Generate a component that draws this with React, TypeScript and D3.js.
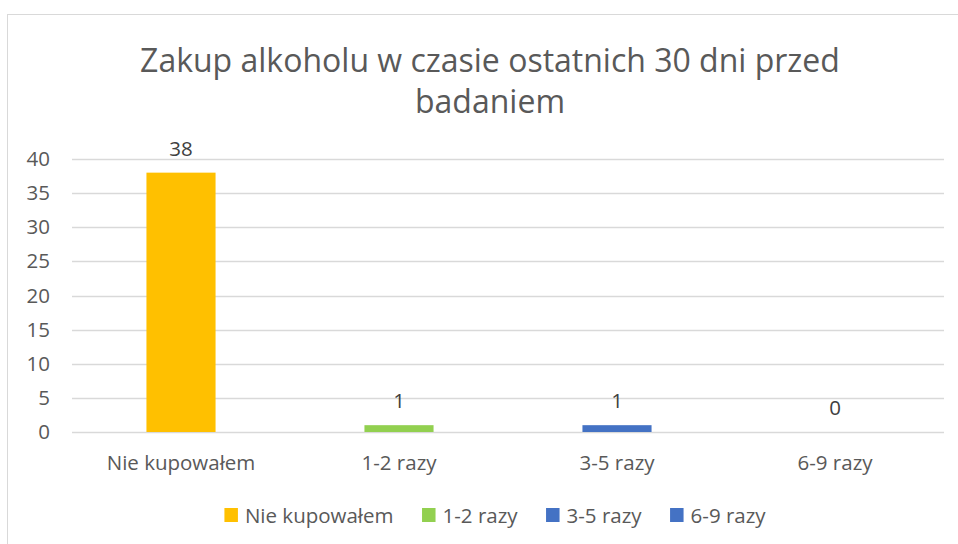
import React, { useRef, useEffect } from "react";
import * as d3 from "d3";

const categories = ["Nie kupowałem", "1-2 razy", "3-5 razy", "6-9 razy"];
const counts = [38, 1, 1, 0];
const colors = ["#FFC000", "#92D050", "#4472C4", "#4472C4"];
const yTicks = [0, 5, 10, 15, 20, 25, 30, 35, 40];
const titleLines = ["Zakup alkoholu w czasie ostatnich 30 dni przed", "badaniem"];

const W = 958;
const H = 544;
const FONT = "'Open Sans', sans-serif";
const TEXT = "#595959";
const LBL = 20.5;

const App = () => {
  const svgRef = useRef<SVGSVGElement>(null);

  useEffect(() => {
    const svg = d3.select(svgRef.current);
    svg.selectAll("*").remove();

    // chart frame (right/bottom fall outside the picture)
    svg.append("rect")
      .attr("x", 7.5).attr("y", 14.5)
      .attr("width", 1000).attr("height", 600)
      .attr("fill", "#fff").attr("stroke", "#D9D9D9");

    const margin = { top: 159, left: 72, right: 14, bottom: 112 };
    const innerW = W - margin.left - margin.right;
    const innerH = H - margin.top - margin.bottom;

    const x = d3.scaleBand().domain(categories).range([0, innerW]).paddingInner(0).paddingOuter(0);
    const y = d3.scaleLinear().domain([0, 40]).range([innerH, 0]);

    // title
    svg.append("g").selectAll("text").data(titleLines).enter().append("text")
      .attr("x", 490).attr("y", (d, i) => 72 + i * 41)
      .attr("text-anchor", "middle")
      .attr("font-family", FONT).attr("font-size", 32)
      .attr("fill", TEXT).text(d => d);

    const g = svg.append("g").attr("transform", `translate(${margin.left},${margin.top})`);

    // gridlines
    g.selectAll("line.grid").data(yTicks).enter().append("line")
      .attr("class", "grid")
      .attr("x1", 0).attr("x2", innerW)
      .attr("y1", d => Math.round(y(d)) + 0.5).attr("y2", d => Math.round(y(d)) + 0.5)
      .attr("stroke", "#D9D9D9").attr("stroke-width", 1.3);

    // y axis
    const yAxis = g.append("g").call(d3.axisLeft(y).tickValues(yTicks).tickSize(0).tickPadding(22));
    yAxis.select(".domain").remove();
    yAxis.selectAll("text")
      .attr("font-family", FONT).attr("font-size", LBL).attr("fill", TEXT);

    // bars
    const barW = x.bandwidth() * 0.317;
    g.selectAll("rect.bar").data(categories).enter().append("rect")
      .attr("class", "bar")
      .attr("x", d => x(d)! + (x.bandwidth() - barW) / 2)
      .attr("y", (d, i) => y(counts[i]))
      .attr("width", barW)
      .attr("height", (d, i) => innerH - y(counts[i]))
      .attr("fill", (d, i) => colors[i]);

    // data labels
    g.selectAll("text.lbl").data(categories).enter().append("text")
      .attr("class", "lbl")
      .attr("x", d => x(d)! + x.bandwidth() / 2)
      .attr("y", (d, i) => y(counts[i]) - 17)
      .attr("text-anchor", "middle")
      .attr("font-family", FONT).attr("font-size", LBL).attr("fill", "#404040")
      .text((d, i) => counts[i]);

    // x axis
    const xAxis = g.append("g").attr("transform", `translate(0,${innerH})`)
      .call(d3.axisBottom(x).tickSize(0));
    xAxis.select(".domain").remove();
    xAxis.selectAll("text")
      .attr("y", 38).attr("dy", 0)
      .attr("font-family", FONT).attr("font-size", LBL).attr("fill", TEXT);

    // legend
    const legend = svg.append("g");
    const items = legend.selectAll("g").data(categories).enter().append("g");
    items.append("rect").attr("width", 13.5).attr("height", 14).attr("y", -15)
      .attr("fill", (d, i) => colors[i]);
    items.append("text").attr("x", 20.5).attr("y", 0)
      .attr("font-family", FONT).attr("font-size", LBL).attr("fill", TEXT)
      .text(d => d);
    const gap = 28.5;
    let cx = 0;
    const offs: number[] = [];
    items.each(function () {
      const t = d3.select(this).select("text").node() as SVGTextElement;
      offs.push(cx);
      cx += 20.5 + t.getComputedTextLength() + gap;
    });
    const total = cx - gap;
    const startX = 495 - total / 2;
    items.attr("transform", (d, i) => `translate(${startX + offs[i]},523)`);
  }, []);

  return <svg ref={svgRef} width={W} height={H} style={{ position: "absolute", left: 0, top: 0 }} />;
};

export default App;
